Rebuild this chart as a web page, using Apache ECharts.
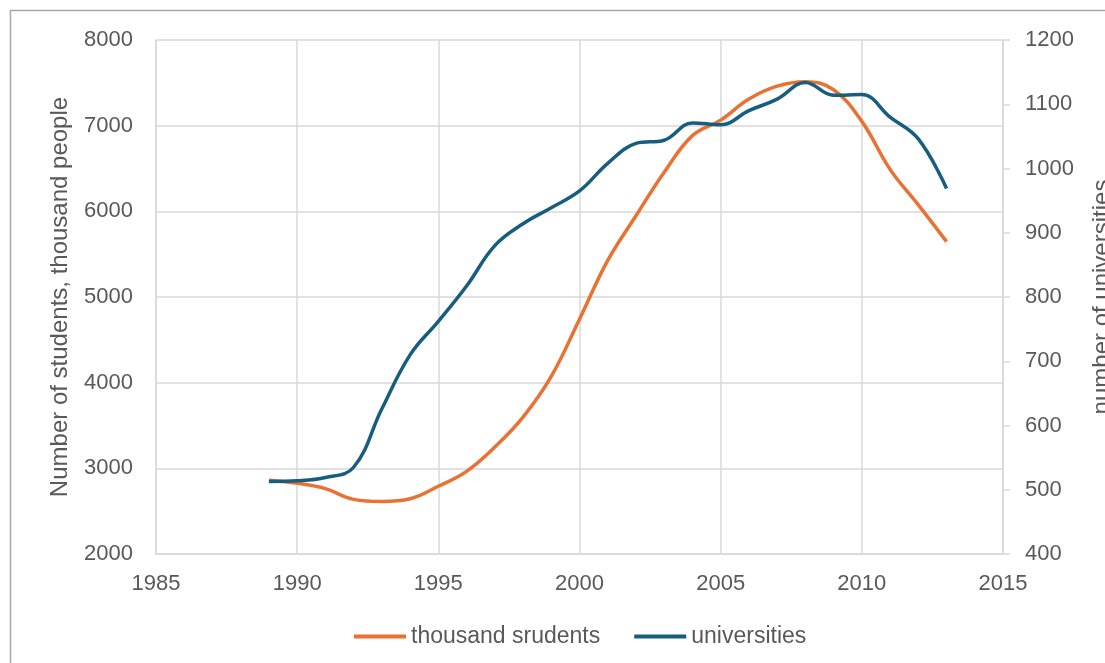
<!DOCTYPE html>
<html>
<head>
<meta charset="utf-8">
<script src="https://cdn.jsdelivr.net/npm/echarts@6/dist/echarts.min.js"></script>
<style>
  html, body { margin: 0; padding: 0; background: #fff; }
  #chart { width: 1105px; height: 663px; }
</style>
</head>
<body>
<div id="chart"></div>
<script>
// data
const years = [1989, 1990, 1991, 1992, 1993, 1994, 1995, 1996, 1997, 1998, 1999, 2000,
  2001, 2002, 2003, 2004, 2005, 2006, 2007, 2008, 2009, 2010, 2011, 2012, 2013]
const students = [2860, 2825, 2763, 2638, 2613, 2645, 2791, 2965, 3248, 3598, 4073, 4741,
  5427, 5948, 6456, 6884, 7065, 7310, 7461, 7513, 7419, 7050, 6490, 6075, 5647]
const universities = [513, 514, 519, 535, 626, 710, 762, 817, 880, 914, 939, 965,
  1008, 1039, 1044, 1071, 1068, 1090, 1108, 1134, 1114, 1115, 1080, 1046, 969]
const seriesNames = ['thousand srudents', 'universities']

const font = 'Liberation Sans'
const textColor = '#595959'
const gridColor = '#d9d9d9'
const plain = v => String(v) // no thousands separator

const chart = echarts.init(document.getElementById('chart'))

const option = {
  animation: false,
  graphic: [{
    // outer frame of the chart area
    type: 'rect',
    shape: { x: 10.5, y: 10.5, width: 1200, height: 800 },
    style: { fill: 'none', stroke: '#a6a6a6', lineWidth: 1.5 }
  }],
  grid: { left: 156, right: 102, top: 40, bottom: 109, outerBoundsMode: 'none' },
  legend: {
    left: 354, top: 625,
    padding: 0,
    icon: 'rect',
    itemWidth: 52, itemHeight: 4, itemGap: 34,
    textStyle: { fontFamily: font, fontSize: 23, color: textColor },
    data: seriesNames
  },
  xAxis: {
    type: 'value',
    min: 1985, max: 2015, interval: 5,
    axisLine: { show: true, lineStyle: { color: gridColor, width: 1.5 } },
    axisTick: { show: false },
    axisLabel: { fontFamily: font, fontSize: 22, color: textColor, margin: 19, formatter: plain },
    splitLine: { show: true, lineStyle: { color: gridColor, width: 1.5 } }
  },
  yAxis: [
    {
      type: 'value',
      min: 2000, max: 8000, interval: 1000,
      name: 'Number of students, thousand people',
      nameLocation: 'middle',
      nameGap: 84,
      nameRotate: 90,
      nameTextStyle: { fontFamily: font, fontSize: 24, color: textColor },
      axisLine: { show: true, lineStyle: { color: gridColor, width: 1.5 } },
      axisTick: { show: false },
      axisLabel: { fontFamily: font, fontSize: 22, color: textColor, margin: 23, formatter: plain },
      splitLine: { show: true, lineStyle: { color: gridColor, width: 1.5 } }
    },
    {
      type: 'value',
      position: 'right',
      min: 400, max: 1200, interval: 100,
      name: 'number of universities',
      nameLocation: 'middle',
      nameGap: 87,
      nameRotate: 90,
      nameTextStyle: { fontFamily: font, fontSize: 24, color: textColor },
      axisLine: { show: true, lineStyle: { color: gridColor, width: 1.5 } },
      axisTick: { show: true, length: 7, lineStyle: { color: gridColor, width: 1.5 } },
      axisLabel: { fontFamily: font, fontSize: 22, color: textColor, margin: 22, formatter: plain },
      splitLine: { show: false }
    }
  ],
  series: [
    {
      name: seriesNames[0],
      type: 'line',
      yAxisIndex: 0,
      smooth: 0.4,
      showSymbol: false,
      symbol: 'none',
      lineStyle: { color: '#E97132', width: 3.5 },
      itemStyle: { color: '#E97132' },
      data: years.map((y, i) => [y, students[i]])
    },
    {
      name: seriesNames[1],
      type: 'line',
      yAxisIndex: 1,
      smooth: 0.4,
      showSymbol: false,
      symbol: 'none',
      lineStyle: { color: '#175E7E', width: 3.5 },
      itemStyle: { color: '#175E7E' },
      data: years.map((y, i) => [y, universities[i]])
    }
  ]
}

chart.setOption(option)
</script>
</body>
</html>
